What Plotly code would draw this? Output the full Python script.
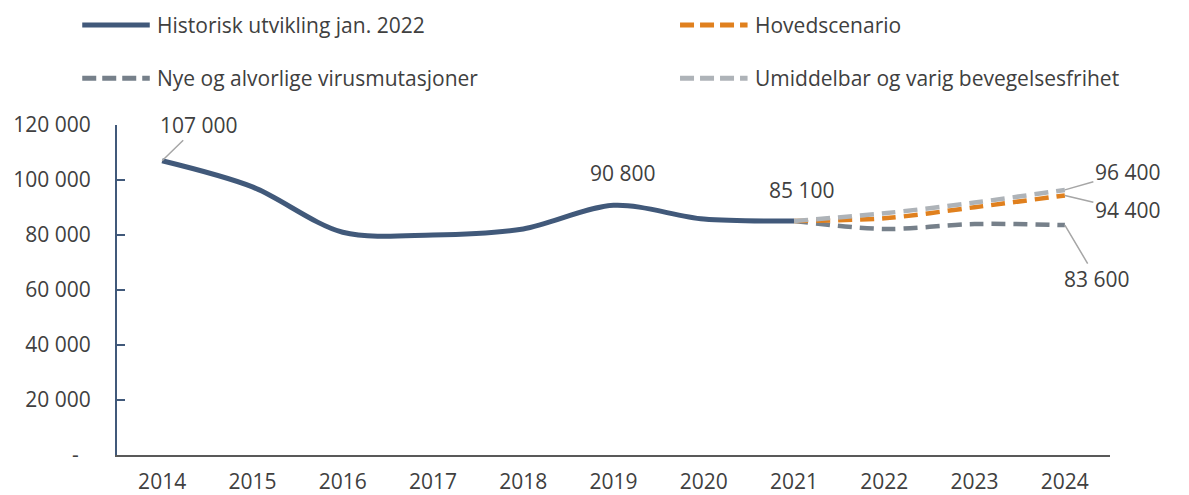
import plotly.graph_objects as go

years_hist = [2014, 2015, 2016, 2017, 2018, 2019, 2020, 2021]
hist_vals = [107000, 97500, 81000, 80000, 82200, 90800, 85800, 85100]

years_scen = [2021, 2022, 2023, 2024]
hoved_vals = [85100, 86100, 90100, 94400]
nye_vals = [85100, 82200, 84000, 83600]
umid_vals = [85100, 87900, 91800, 96400]

x_ticks = list(range(2014, 2025))
y_tickvals = [0, 20000, 40000, 60000, 80000, 100000, 120000]
y_ticktext = ["-\u2007", "20 000", "40 000", "60 000", "80 000", "100 000", "120 000"]

names = ["Historisk utvikling jan. 2022", "Hovedscenario",
         "Nye og alvorlige virusmutasjoner", "Umiddelbar og varig bevegelsesfrihet"]

C_HIST = "#41597a"
C_HOVED = "#e0801e"
C_NYE = "#76808a"
C_UMID = "#aeb3b8"
FONT = "Open Sans"
FS = 21
TXT = "#404040"

fig = go.Figure()
fig.add_trace(go.Scatter(x=years_hist, y=hist_vals, mode="lines", name=names[0],
                         line=dict(color=C_HIST, width=5, shape="spline", smoothing=0.9),
                         showlegend=False))
fig.add_trace(go.Scatter(x=years_scen, y=nye_vals, mode="lines", name=names[2],
                         line=dict(color=C_NYE, width=4.5, dash="14px,8px", shape="spline", smoothing=0.9),
                         showlegend=False))
fig.add_trace(go.Scatter(x=years_scen, y=hoved_vals, mode="lines", name=names[1],
                         line=dict(color=C_HOVED, width=4.5, dash="14px,8px", shape="spline", smoothing=0.9),
                         showlegend=False))
fig.add_trace(go.Scatter(x=years_scen, y=umid_vals, mode="lines", name=names[3],
                         line=dict(color=C_UMID, width=4.5, dash="14px,8px", shape="spline", smoothing=0.9),
                         showlegend=False))

def fmt(v):
    return f"{v:,}".replace(",", " ")

tf = dict(family=FONT, size=FS, color=TXT)
ann = []
lead = dict(showarrow=True, arrowhead=0, arrowwidth=1.5, arrowcolor="#a6a6a6", font=tf)
ann.append(dict(x=years_hist[0], y=hist_vals[0], text=fmt(hist_vals[0]), ax=37, ay=-36, **lead))
ann.append(dict(x=years_hist[5], y=hist_vals[5], text=fmt(hist_vals[5]), showarrow=False,
                xshift=9, yshift=32, font=tf))
ann.append(dict(x=years_hist[7], y=hist_vals[7], text=fmt(hist_vals[7]), showarrow=False,
                xshift=8, yshift=31, font=tf))
ann.append(dict(x=years_scen[-1], y=umid_vals[-1], text=fmt(umid_vals[-1]), ax=63, ay=-18, **lead))
ann.append(dict(x=years_scen[-1], y=hoved_vals[-1], text=fmt(hoved_vals[-1]), ax=63, ay=15, **lead))
ann.append(dict(x=years_scen[-1], y=nye_vals[-1], text=fmt(nye_vals[-1]), ax=32, ay=54, **lead))

# manual legend
shapes = []
leg = [(names[0], C_HIST, "solid", 5, -0.035, 1.303),
       (names[1], C_HOVED, "14px,6px", 5, 0.567, 1.303),
       (names[2], C_NYE, "14px,6px", 5, -0.035, 1.142),
       (names[3], C_UMID, "14px,6px", 5, 0.567, 1.142)]
for name, col, dash, w, x0, yy in leg:
    shapes.append(dict(type="line", xref="paper", yref="paper", x0=x0, x1=x0 + 0.068,
                       y0=yy, y1=yy, line=dict(color=col, width=w, dash=dash)))
    ann.append(dict(xref="paper", yref="paper", x=x0 + 0.073, y=yy, text=name, showarrow=False,
                    xanchor="left", yanchor="middle", font=tf))

fig.update_layout(
    width=1181, height=487,
    margin=dict(l=109, r=79, t=117, b=40),
    plot_bgcolor="white", paper_bgcolor="white",
    showlegend=False,
    annotations=ann, shapes=shapes,
    font=tf,
)
fig.update_xaxes(range=[2013.5, 2024.5], tickvals=x_ticks, ticktext=[str(y) for y in x_ticks],
                 showgrid=False, zeroline=False, showline=True, linecolor="#595959", linewidth=2,
                 ticks="", ticklabelstandoff=7, tickfont=tf, automargin=False)
fig.update_yaxes(range=[0, 120000], tickvals=y_tickvals, ticktext=y_ticktext,
                 showgrid=False, zeroline=False, showline=True, linecolor=C_HIST, linewidth=2,
                 ticks="inside", ticklen=8, tickcolor=C_HIST, tickwidth=2, ticklabelstandoff=20,
                 tickfont=tf, automargin=False)

fig.write_html("out.html")
